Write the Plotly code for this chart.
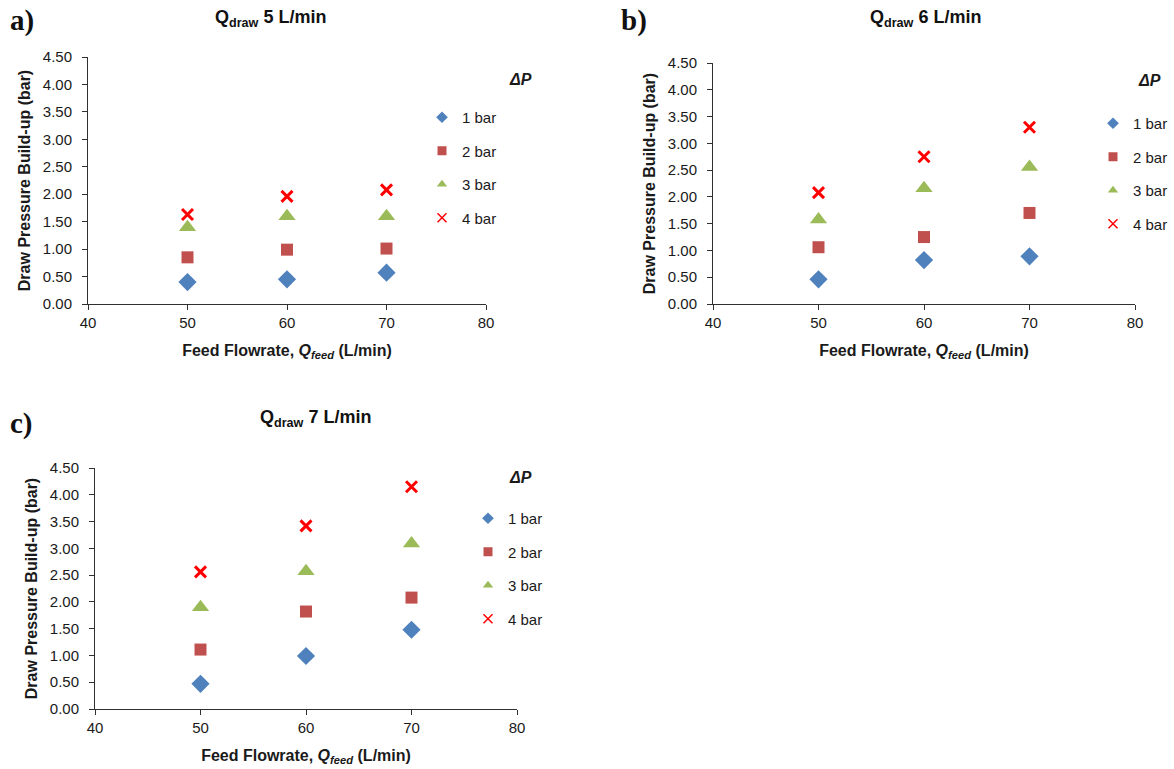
import plotly.graph_objects as go

W, H = 1174, 769

feed = [50, 60, 70]
series_names = ["1 bar", "2 bar", "3 bar", "4 bar"]

# Panel a) Qdraw 5 L/min
a_1bar = [0.40, 0.45, 0.57]
a_2bar = [0.85, 0.99, 1.01]
a_3bar = [1.40, 1.60, 1.60]
a_4bar = [1.63, 1.96, 2.08]

# Panel b) Qdraw 6 L/min
b_1bar = [0.46, 0.82, 0.89]
b_2bar = [1.06, 1.25, 1.70]
b_3bar = [1.58, 2.16, 2.56]
b_4bar = [2.08, 2.75, 3.30]

# Panel c) Qdraw 7 L/min
c_1bar = [0.47, 0.99, 1.48]
c_2bar = [1.11, 1.82, 2.08]
c_3bar = [1.90, 2.57, 3.09]
c_4bar = [2.56, 3.42, 4.15]

panels = [
    ("a)", "5", [a_1bar, a_2bar, a_3bar, a_4bar]),
    ("b)", "6", [b_1bar, b_2bar, b_3bar, b_4bar]),
    ("c)", "7", [c_1bar, c_2bar, c_3bar, c_4bar]),
]

# pixel geometry for each panel: (x_left, x_right, y_top, y_bottom)
geom = [
    (88, 486, 57, 304),
    (713, 1135, 63, 304),
    (95, 517, 468, 709),
]
# legend: (text_start_x, first_item_y, dP_x, dP_y)
leg_pos = [(462, 117, 520, 79), (1133, 123, 1149, 80), (508, 518, 520, 477)]
lab_pos = [(8, 20), (619, 20), (8, 424)]
title_pos = [(270, 18), (925, 18), (315, 419)]

styles = [
    dict(symbol="diamond", size=14, color="#4F81BD"),
    dict(symbol="square", size=12, color="#C0504D"),
    dict(symbol="triangle-up", size=15, color="#9BBB59"),
    dict(symbol="x-thin", size=11, color="#FF0000"),
]

def px(x):
    return x / W

def py(y):
    return 1 - y / H

fig = go.Figure()
annotations = []
layout = {}
font_fam = "Liberation Sans, Arial, sans-serif"
txt = "#1a1a1a"

for i, (lab, q, data) in enumerate(panels):
    n = "" if i == 0 else str(i + 1)
    xl, xr, yt, yb = geom[i]
    legname = "legend" if i == 0 else f"legend{i + 1}"
    for j, vals in enumerate(data):
        st = styles[j]
        if st["symbol"] == "x-thin":
            marker = dict(symbol="x-thin", size=st["size"],
                          line=dict(color=st["color"], width=3), color=st["color"])
            lmarker = dict(symbol="x-thin", size=9,
                           line=dict(color=st["color"], width=1.5), color=st["color"])
        else:
            marker = dict(symbol=st["symbol"], size=st["size"], color=st["color"],
                          line=dict(width=0))
            lmarker = dict(symbol=st["symbol"], size=9, color=st["color"],
                           line=dict(width=0))
        fig.add_trace(go.Scatter(
            x=feed, y=vals, mode="markers", name=series_names[j],
            marker=marker, xaxis="x" + n, yaxis="y" + n, showlegend=False,
        ))
        # legend entry (smaller symbol as in the reference)
        fig.add_trace(go.Scatter(
            x=[None], y=[None], mode="markers", name=series_names[j],
            marker=lmarker, xaxis="x" + n, yaxis="y" + n,
            legend=legname, legendgroup=f"p{i}s{j}", showlegend=True,
        ))
    layout["xaxis" + n] = dict(
        domain=[px(xl), px(xr)], range=[40, 80], dtick=10, tick0=40,
        anchor="y" + n, showgrid=False, zeroline=False, automargin=False,
        showline=True, linecolor="#303030", linewidth=1,
        ticks="outside", ticklen=5, tickcolor="#303030",
        tickfont=dict(family=font_fam, size=15, color=txt),
        title=dict(text="<b>Feed Flowrate, <i>Q<sub>feed</sub></i> (L/min)</b>",
                   font=dict(family=font_fam, size=16, color=txt), standoff=14),
    )
    layout["yaxis" + n] = dict(
        domain=[py(yb), py(yt)], range=[0, 4.5], dtick=0.5, tick0=0,
        anchor="x" + n, showgrid=False, zeroline=False, automargin=False,
        showline=True, linecolor="#303030", linewidth=1,
        ticks="outside", ticklen=5, tickcolor="#303030", tickformat=".2f",
        ticklabelstandoff=7,
        tickfont=dict(family=font_fam, size=15, color=txt),
        title=dict(text="<b>Draw Pressure Build-up (bar)</b>",
                   font=dict(family=font_fam, size=16, color=txt), standoff=8),
    )
    lx, ly, dx, dy = leg_pos[i]
    layout[legname] = dict(
        x=px(lx - 40), y=py(ly - 16), xanchor="left", yanchor="top",
        bgcolor="rgba(0,0,0,0)", font=dict(family=font_fam, size=15, color=txt),
        tracegroupgap=11, traceorder="grouped", itemwidth=30,
        itemsizing="trace",
    )
    annotations.append(dict(
        text="<b><i>ΔP</i></b>", x=px(dx), y=py(dy), xref="paper", yref="paper",
        showarrow=False, font=dict(family=font_fam, size=16, color=txt),
        xanchor="center", yanchor="middle",
    ))
    tx, ty = title_pos[i]
    annotations.append(dict(
        text=f"<b>Q<sub>draw</sub> {q} L/min</b>", x=px(tx), y=py(ty),
        xref="paper", yref="paper", showarrow=False,
        font=dict(family=font_fam, size=18, color="#111"),
        xanchor="center", yanchor="middle",
    ))
    lbx, lby = lab_pos[i]
    annotations.append(dict(
        text=f"<b>{lab}</b>", x=px(lbx), y=py(lby), xref="paper", yref="paper",
        showarrow=False, font=dict(family="Liberation Serif, Times New Roman, serif",
                                   size=29, color="#111"),
        xanchor="left", yanchor="middle",
    ))

fig.update_layout(
    width=W, height=H, margin=dict(l=0, r=0, t=0, b=0, autoexpand=False),
    paper_bgcolor="white", plot_bgcolor="white", hovermode=False,
    annotations=annotations, showlegend=True, **layout,
)

fig.write_html(
    "out.html",
    config={"displayModeBar": False, "staticPlot": True},
    post_script="document.body.style.margin='0px'; document.body.style.overflow='hidden';",
)
